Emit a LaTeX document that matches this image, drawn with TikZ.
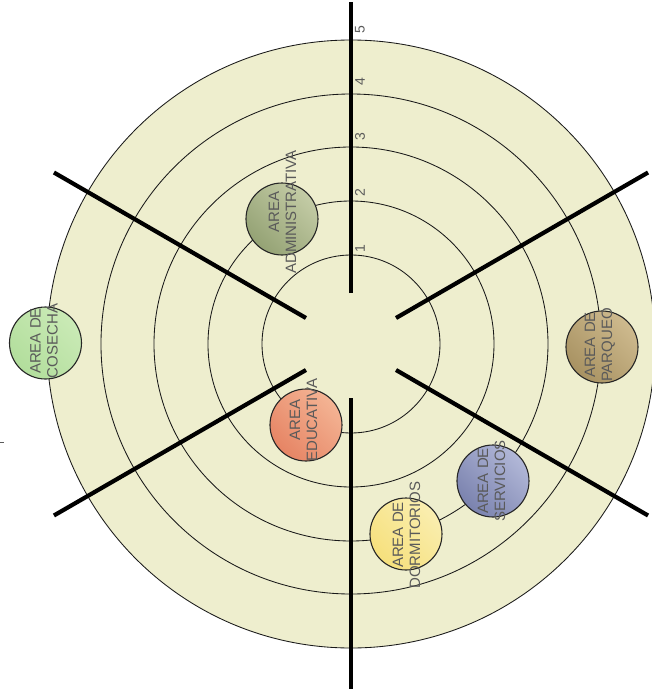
\documentclass[tikz,border=0pt]{standalone}
\usepackage{fontspec}
\setmainfont{Liberation Sans}
\definecolor{bg}{RGB}{238,238,206}
\definecolor{txt}{RGB}{90,90,90}
\begin{document}
\begin{tikzpicture}[x=1pt,y=1pt,
  ring/.style={draw=black!90, line width=0.85pt},
  spoke/.style={line width=4.2pt, draw=black},
  area/.style={circle, draw=black!85, line width=1.1pt, minimum size=72pt, inner sep=0pt},
  lbl/.style={text=txt, font=\fontsize{15}{17}\selectfont, align=center, rotate=90, inner sep=0pt},
  num/.style={text=txt, font=\fontsize{14}{16}\selectfont, rotate=90, inner sep=0pt}]
\useasboundingbox (-351,-345) rectangle (301,344);
\clip (-351,-345) rectangle (301,344);
\fill[white] (-351,-345) rectangle (301,344);
\fill[bg] (0,0) circle (304);
\foreach \r in {89,143,197,250,304} \draw[ring] (0,0) circle (\r);
% centre and spoke ends
\coordinate (c) at (0,0);
\foreach \a/\ri/\ro [count=\i] in {90/51/342, 30/52/343, 150/52/343, 210/52/343, 270/54/346, 330/52/343}{
  \coordinate (s\i a) at (\a:\ri);
  \coordinate (s\i b) at (\a:\ro);
  \draw[spoke] (s\i a) -- (s\i b);
}
% scale numbers
\node[num] (n1) at (9,95) {1};
\node[num] (n2) at (9,151) {2};
\node[num] (n3) at (9,207) {3};
\node[num] (n4) at (9,262) {4};
\node[num] (n5) at (9,314) {5};
% area circles
\node[area, bottom color={rgb,255:red,178;green,222;blue,156}, top color={rgb,255:red,202;green,234;blue,182}, shading angle=-45] (cosecha) at (-305.5,1) {};
\node[area, bottom color={rgb,255:red,148;green,162;blue,116}, top color={rgb,255:red,196;green,204;blue,166}, shading angle=-45] (admin) at (-69,125) {};
\node[area, bottom color={rgb,255:red,230;green,132;blue,100}, top color={rgb,255:red,244;green,180;blue,148}, shading angle=-45] (educ) at (-45,-81) {};
\node[area, bottom color={rgb,255:red,246;green,224;blue,124}, top color={rgb,255:red,250;green,238;blue,176}, shading angle=-45] (dorm) at (55,-190) {};
\node[area, bottom color={rgb,255:red,122;green,130;blue,174}, top color={rgb,255:red,178;green,184;blue,216}, shading angle=-45] (serv) at (142,-137) {};
\node[area, bottom color={rgb,255:red,168;green,146;blue,98}, top color={rgb,255:red,206;green,186;blue,142}, shading angle=-45] (parq) at (251,-3) {};
% labels
\node[lbl] (cosechat) at (-307,3) {AREA DE\\COSECHA};
\node[lbl] (admint) at (-68.5,132) {AREA\\ADMINISTRATIVA};
\node[lbl] (educt) at (-47.5,-76) {AREA\\EDUCATIVA};
\node[lbl] (dormt) at (55.5,-191) {AREA DE\\DORMITORIOS};
\node[lbl] (servt) at (140.5,-137) {AREA DE\\SERVICIOS};
\node[lbl] (parqt) at (249,-1) {AREA DE\\PARQUEO};
% small stray dash at left edge
\coordinate (m1) at (-351,-98);
\coordinate (m2) at (-347,-98);
\draw[txt, line width=1pt] (m1) -- (m2);
\end{tikzpicture}
\end{document}
